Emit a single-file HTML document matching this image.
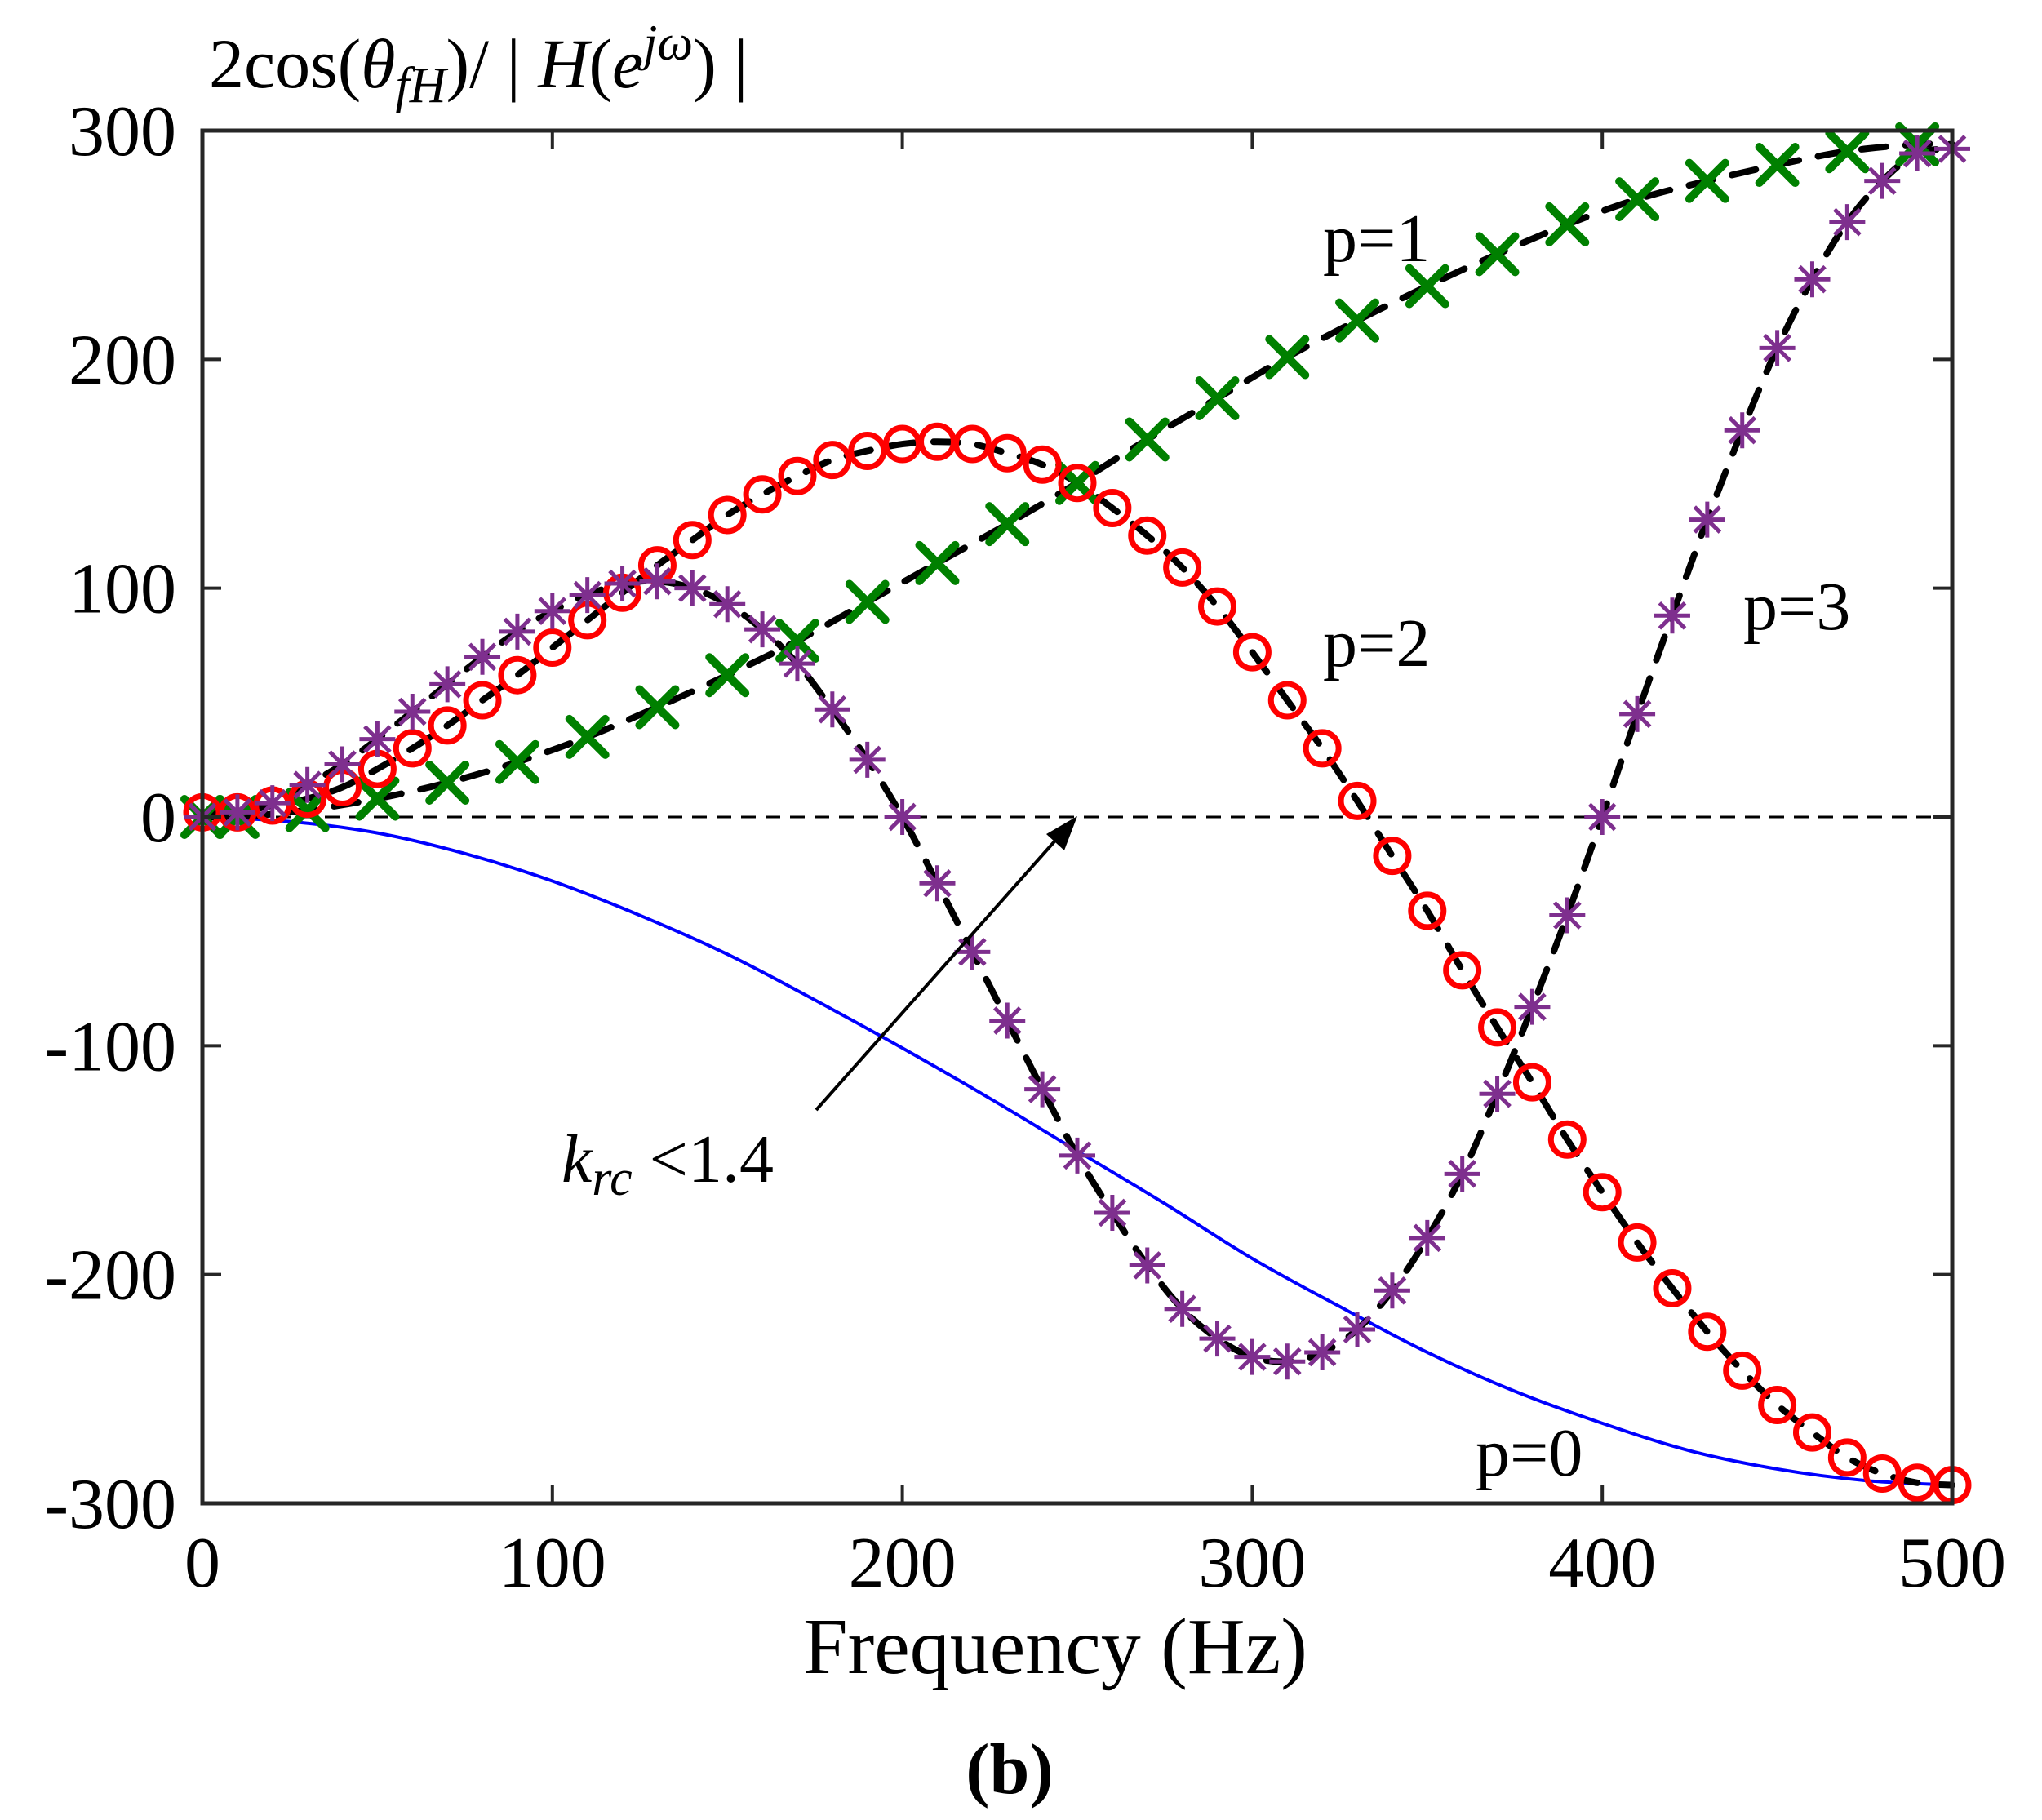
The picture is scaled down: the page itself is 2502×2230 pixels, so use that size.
<!DOCTYPE html>
<html><head><meta charset="utf-8"><style>
html,body{margin:0;padding:0;background:#fff;width:2502px;height:2230px;overflow:hidden}
svg text{font-family:"Liberation Serif",serif;fill:#000}
</style></head><body>
<svg id="chart" width="2502" height="2230" viewBox="0 0 2502 2230" xmlns="http://www.w3.org/2000/svg">
<g id="plot"></g>
<g id="axes"></g>
<text x="256" y="107" font-size="86">2cos(<tspan font-style="italic">θ</tspan><tspan font-style="italic" font-size="62" dy="18">fH</tspan><tspan dy="-18">)/ | </tspan><tspan font-style="italic">H</tspan>(<tspan font-style="italic">e</tspan><tspan font-style="italic" font-size="62" dy="-34">jω</tspan><tspan dy="34">) |</tspan></text>
<text x="1293" y="2050" font-size="98" text-anchor="middle">Frequency (Hz)</text>
<text x="1237" y="2197" font-size="88" font-weight="bold" text-anchor="middle">(b)</text>
<text x="1621" y="320" font-size="84">p=1</text>
<text x="1621" y="816" font-size="84">p=2</text>
<text x="2136" y="771" font-size="84">p=3</text>
<text x="1808" y="1808" font-size="84">p=0</text>
<text x="688" y="1448" font-size="84"><tspan font-style="italic">k</tspan><tspan font-style="italic" font-size="62" dy="16">rc</tspan><tspan dy="-16"> &lt;1.4</tspan></text>
</svg>
<script>
const xTicks=[0,100,200,300,400,500];
const yTicks=[-300,-200,-100,0,100,200,300];
const f10=[0,10,20,30,40,50,60,70,80,90,100,110,120,130,140,150,160,170,180,190,200,210,220,230,240,250,260,270,280,290,300,310,320,330,340,350,360,370,380,390,400,410,420,430,440,450,460,470,480,490,500];
const f25=[0,25,50,75,100,125,150,175,200,225,250,275,300,325,350,375,400,425,450,475,500];
const p0=[0,-2,-7,-16,-28,-43,-60,-80,-101,-123,-146,-169,-193,-214,-234,-251,-265,-277,-285,-290,-292];
const fGreen=[0,10,30,50,70,90,110,130,150,170,190,210,230,250,270,290,310,330,350,370,390,410,430,450,470,490,500];
const p1=[0,0,3,8,15,24,35,48,62,77,94,111,128,146,165,183,201,217,232,246,259,270,278,285,291,294,294];
const p2=[2,2,5,8,13,21,30,40,51,62,74,86,98,110,121,132,141,149,156,160,163,164,163,159,154,146,135,123,109,92,72,51,30,7,-17,-41,-67,-92,-116,-141,-164,-186,-206,-225,-242,-257,-269,-280,-287,-291,-292];
const p3=[0,2,6,14,23,34,46,58,70,81,90,97,102,103,100,93,82,67,47,25,0,-29,-59,-89,-119,-148,-173,-196,-215,-228,-236,-238,-234,-224,-207,-184,-156,-121,-83,-43,0,45,88,130,169,205,235,260,278,290,292];
const NS='http://www.w3.org/2000/svg';
const X0=248,X1=2392,Y0=1842,Y1=160;
const sx=v=>X0+(v-0)/500*(X1-X0);
const sy=v=>Y0-(v+300)/600*(Y0-Y1);
const plot=document.getElementById('plot'),axes=document.getElementById('axes');
function mk(tag,attrs,parent){const e=document.createElementNS(NS,tag);for(const k in attrs)e.setAttribute(k,attrs[k]);parent.appendChild(e);return e;}
function smooth(xs,ys){const p=xs.map((x,i)=>[sx(x),sy(ys[i])]);let d='M'+p[0][0]+','+p[0][1];
for(let i=0;i<p.length-1;i++){const a=p[Math.max(0,i-1)],b=p[i],c=p[i+1],e=p[Math.min(p.length-1,i+2)];
d+=' C'+(b[0]+(c[0]-a[0])/6)+','+(b[1]+(c[1]-a[1])/6)+' '+(c[0]-(e[0]-b[0])/6)+','+(c[1]-(e[1]-b[1])/6)+' '+c[0]+','+c[1];}return d;}
let z=mk('line',{x1:X0,x2:X1,y1:sy(0),y2:sy(0),stroke:'#000','stroke-width':3,'stroke-dasharray':'18,12'},plot);


let b=mk('path',{d:smooth(f25,p0),fill:'none',stroke:'#0000ff','stroke-width':4},plot);


[[fGreen,p1,'p1'],[f10,p2,'p2'],[f10,p3,'p3']].forEach(([xs,ys,n])=>{
const l=mk('path',{d:smooth(xs,ys),fill:'none',stroke:'#000','stroke-width':8,'stroke-dasharray':'30,24','stroke-linecap':'round'},plot);

});
fGreen.forEach((f,i)=>{if(f>=500)return;const cx=sx(f),cy=sy(p1[i]),r=22;
const g=mk('path',{d:`M${cx-r},${cy-r}L${cx+r},${cy+r}M${cx-r},${cy+r}L${cx+r},${cy-r}`,stroke:'#008000','stroke-width':10,'stroke-linecap':'round'},plot);

});
f10.forEach((f,i)=>{const c=mk('circle',{cx:sx(f),cy:sy(p2[i]),r:20,fill:'none',stroke:'#ff0000','stroke-width':7},plot);

});
f10.forEach((f,i)=>{const cx=sx(f),cy=sy(p3[i]),r=22,q=r*0.707;
const s=mk('path',{d:`M${cx-r},${cy}L${cx+r},${cy}M${cx},${cy-r}L${cx},${cy+r}M${cx-q},${cy-q}L${cx+q},${cy+q}M${cx-q},${cy+q}L${cx+q},${cy-q}`,stroke:'#7e2f8e','stroke-width':5},plot);

});
let ar=mk('line',{x1:1000,y1:1360,x2:1300,y2:1022,stroke:'#000','stroke-width':4},plot);


let ah=mk('polygon',{points:'1320,1000 1282,1022 1304,1042',fill:'#000'},plot);


let fr=mk('rect',{x:X0,y:Y1,width:X1-X0,height:Y0-Y1,fill:'none',stroke:'#262626','stroke-width':5},axes);


xTicks.forEach(t=>{const x=sx(t);
mk('line',{x1:x,x2:x,y1:Y0,y2:Y0-23,stroke:'#262626','stroke-width':4},axes);
mk('line',{x1:x,x2:x,y1:Y1,y2:Y1+23,stroke:'#262626','stroke-width':4},axes);
const tx=mk('text',{x:x,y:1944,'font-size':88,'text-anchor':'middle',fill:'#262626'},axes);tx.textContent=t;

});
yTicks.forEach(t=>{const y=sy(t);
mk('line',{x1:X0,x2:X0+23,y1:y,y2:y,stroke:'#262626','stroke-width':4},axes);
mk('line',{x1:X1,x2:X1-23,y1:y,y2:y,stroke:'#262626','stroke-width':4},axes);
const tx=mk('text',{x:216,y:y+30,'font-size':88,'text-anchor':'end',fill:'#262626'},axes);tx.textContent=t;

});
</script>
</body></html>
